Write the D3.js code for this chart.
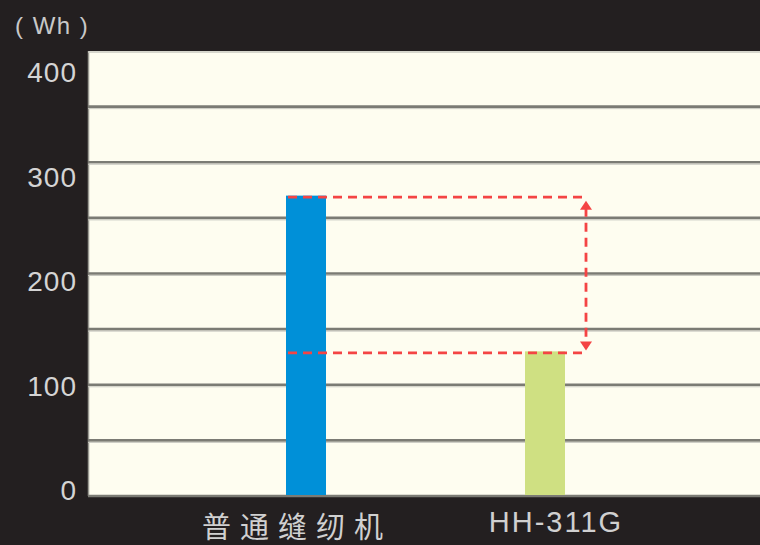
<!DOCTYPE html>
<html><head><meta charset="utf-8">
<script src="https://cdn.jsdelivr.net/npm/d3@7"></script>
<style>html,body{margin:0;padding:0;background:#231f20;}svg{display:block;}</style>
</head><body>
<svg id="c" width="760" height="545"></svg>
<script>
const categories = ["普通缝纫机", "HH-311G"];
const values = [270, 130];
const tickValues = [0, 100, 200, 300, 400];
const gridValues = [0, 50, 100, 150, 200, 250, 300, 350, 400];
const unitLabel = "( Wh )";
const barColors = ["#0090d8", "#cfe082"];

const svg = d3.select("#c");
const W = 760, H = 545;
svg.append("rect").attr("width", W).attr("height", H).attr("fill", "#231f20");

const plot = {left: 88, right: 760, top: 51, bottom: 496};
const y = d3.scaleLinear().domain([0, 400]).range([plot.bottom, plot.top]);
const yLabel = d3.scaleLinear().domain([0, 400]).range([500, 82]);
const x = d3.scalePoint().domain(categories).range([306, 545]);
const barW = 40;

svg.append("rect").attr("x", plot.left).attr("y", plot.top)
  .attr("width", plot.right - plot.left).attr("height", plot.bottom - plot.top)
  .attr("fill", "#fefdf0");
svg.append("line").attr("x1", plot.left + 0.5).attr("x2", plot.left + 0.5)
  .attr("y1", plot.top).attr("y2", plot.bottom).attr("stroke", "#9a9a92").attr("stroke-width", 1.5);
svg.append("line").attr("x1", plot.left).attr("x2", plot.right)
  .attr("y1", plot.top + 1).attr("y2", plot.top + 1).attr("stroke", "#c9c9c0").attr("stroke-width", 1.5);

// gridlines
const g = svg.append("g");
g.selectAll("line.g").data(gridValues.filter(v => v < 400)).join("line")
  .attr("x1", plot.left).attr("x2", plot.right)
  .attr("y1", d => y(d)).attr("y2", d => y(d))
  .attr("stroke", "#7b7b74").attr("stroke-width", 2.6);
g.selectAll("line.h").data(gridValues.filter(v => v < 400 && v > 0)).join("line")
  .attr("x1", plot.left).attr("x2", plot.right)
  .attr("y1", d => y(d) + 2).attr("y2", d => y(d) + 2)
  .attr("stroke", "#c8c8c0").attr("stroke-width", 1);

// bars
svg.selectAll("rect.bar").data(values).join("rect")
  .attr("x", (d, i) => x(categories[i]) - barW / 2)
  .attr("y", d => y(d))
  .attr("width", barW)
  .attr("height", d => y(0) - y(d) - 1)
  .attr("fill", (d, i) => barColors[i]);

// dashed comparison
const red = "#f44444";
const arrowX = 586;
const x0 = x(categories[0]) - barW / 2;
[values[0], values[1]].forEach(v => {
  svg.append("line").attr("x1", x0 + 2).attr("x2", arrowX)
    .attr("y1", y(v) + 1.5).attr("y2", y(v) + 1.5)
    .attr("stroke", red).attr("stroke-width", 2.8).attr("stroke-dasharray", "9,6");
});
svg.append("line").attr("x1", arrowX).attr("x2", arrowX)
  .attr("y1", y(values[0]) + 12).attr("y2", y(values[1]) - 8)
  .attr("stroke", red).attr("stroke-width", 2.8).attr("stroke-dasharray", "9,6");
const ah = 9, aw = 6;
const topTip = y(values[0]) + 5, botTip = y(values[1]) - 1;
svg.append("path").attr("d", `M${arrowX},${topTip} L${arrowX - aw},${topTip + ah} L${arrowX + aw},${topTip + ah} Z`).attr("fill", red);
svg.append("path").attr("d", `M${arrowX},${botTip} L${arrowX - aw},${botTip - ah} L${arrowX + aw},${botTip - ah} Z`).attr("fill", red);

// y labels
svg.selectAll("text.yt").data(tickValues).join("text")
  .attr("x", 77).attr("y", d => yLabel(d))
  .attr("text-anchor", "end")
  .attr("font-family", "Liberation Sans, Arial, sans-serif")
  .attr("font-size", 28).attr("letter-spacing", "1px").attr("fill", "#d4d4d4")
  .text(d => d);

svg.append("text").attr("x", 15).attr("y", 34)
  .attr("font-family", "Liberation Sans, Arial, sans-serif")
  .attr("font-size", 24).attr("letter-spacing", "1.5px").attr("fill", "#c8c8c8")
  .attr("xml:space", "preserve").style("white-space", "pre")
  .text(unitLabel);

// category labels
const labOffset = [-9, 11];
svg.selectAll("text.cat").data(categories).join("text")
  .attr("x", (d, i) => x(d) + labOffset[i])
  .attr("y", (d, i) => i === 0 ? 538 : 532)
  .attr("text-anchor", "middle")
  .attr("font-family", (d, i) => i === 0 ? "Noto Sans CJK SC, sans-serif" : "Liberation Sans, Arial, sans-serif")
  .attr("font-weight", (d, i) => i === 0 ? 400 : 400)
  .attr("font-size", 29)
  .attr("letter-spacing", (d, i) => i === 0 ? "9px" : "2px")
  .attr("fill", "#d0d0d0")
  .text(d => d);
</script>
</body></html>
